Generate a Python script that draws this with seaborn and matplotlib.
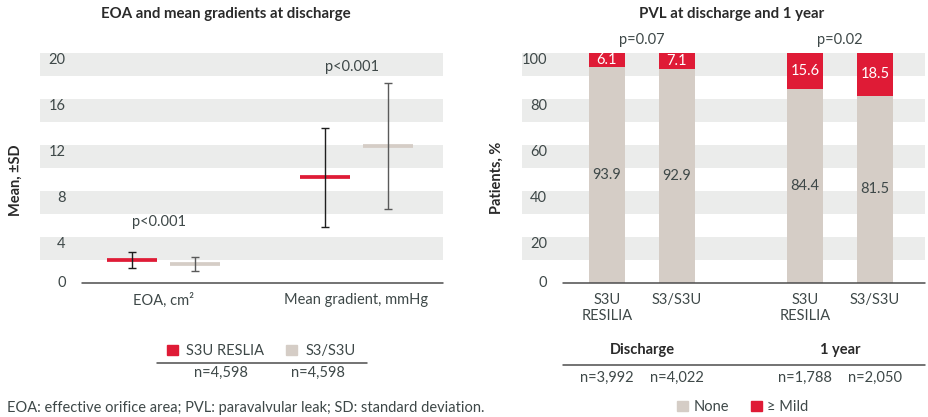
import numpy as np
import pandas as pd
import seaborn as sns
import matplotlib.pyplot as plt
import matplotlib.transforms as mtransforms
from matplotlib.patches import Patch

# left panel: EOA and mean gradient at discharge
metrics = ["EOA, cm²", "Mean gradient, mmHg"]
devices = ["S3U RESLIA", "S3/S3U"]
device_n = ["n=4,598", "n=4,598"]
eoa_mean = [2.0, 1.65]
eoa_sd = [0.67, 0.57]
grad_mean = [9.2, 11.9]
grad_sd = [4.3, 5.5]
left_pvals = ["p<0.001", "p<0.001"]
left_pval_y = [5.3, 18.8]
left_ticks = [0, 4, 8, 12, 16, 20]

# right panel: PVL at discharge and 1 year
pvl_labels = ["S3U\nRESILIA", "S3/S3U", "S3U\nRESILIA", "S3/S3U"]
timepoints = ["Discharge", "1 year"]
pvl_n = ["n=3,992", "n=4,022", "n=1,788", "n=2,050"]
none_pct = [93.9, 92.9, 84.4, 81.5]
mild_pct = [6.1, 7.1, 15.6, 18.5]
right_pvals = ["p=0.07", "p=0.02"]
right_ticks = [0, 20, 40, 60, 80, 100]

RED = "#df1b36"
BEIGE = "#d5cdc6"
BAND = "#ebeceb"
TXT = "#3e4848"
DARK = "#2a2a2a"
FS = 10.5

sns.set_style("white")
plt.rcParams["font.family"] = ["Lato", "DejaVu Sans"]

W, H = 929, 417
fig = plt.figure(figsize=(W / 100, H / 100), dpi=100)


def px_axes(x0, x1, top, bottom):
    return fig.add_axes([x0 / W, 1 - bottom / H, (x1 - x0) / W, (bottom - top) / H])


ax1 = px_axes(40, 443, 35, 283)
ax2 = px_axes(522, 925, 35, 283)


def frame(ax, ticks, top, xline, xlab):
    step = ticks[1] - ticks[0]
    for v in ticks[1:]:
        ax.axhspan(v - step / 2, v, color=BAND, lw=0, zorder=0)
    ax.set_ylim(0, top)
    ax.axhline(0, xmin=xline, color="#4d4d4d", lw=1.1, zorder=5, clip_on=False)
    for v in ticks:
        tr = ax.get_yaxis_transform()
        if v:
            tr = mtransforms.offset_copy(tr, fig=fig, y=-4.7, units="points")
        ax.text(xlab, v, str(v), transform=tr, ha="right", va="center",
                fontsize=FS, color=TXT)
    ax.set_yticks([])
    ax.set_ylabel("")
    ax.set_xlabel("")
    sns.despine(ax=ax, left=True, bottom=True)
    ax.tick_params(axis="x", length=0, pad=7, labelsize=FS, labelcolor=TXT)


# ---- left panel
left = pd.DataFrame({
    "metric": np.repeat(metrics, 2),
    "device": devices * 2,
    "mean": eoa_mean + grad_mean,
    "sd": eoa_sd + grad_sd,
})
dodge = 0.163
left["x"] = np.repeat(np.arange(len(metrics)), 2) + np.tile([-dodge, dodge], len(metrics))

sns.scatterplot(data=left, x="x", y="mean", hue="device", hue_order=devices,
                palette=[RED, BEIGE], marker="_", s=1300, linewidth=2.7,
                legend=False, ax=ax1, zorder=3)
err_cols = {devices[0]: "#1e1e1e", devices[1]: "#5a5a5a"}
for _, r in left.iterrows():
    ax1.errorbar(r["x"], r["mean"], yerr=r["sd"], fmt="none", ecolor=err_cols[r["device"]],
                 elinewidth=1, capsize=3, capthick=1, zorder=4)
for i, (p, y) in enumerate(zip(left_pvals, left_pval_y)):
    ax1.text(i - 0.025, y, p, ha="center", va="center", fontsize=FS, color=TXT)

ax1.set_xlim(-0.64, 1.448)
ax1.set_xticks(range(len(metrics)), metrics)
frame(ax1, left_ticks, 248 / 11.5, (82 - 40) / 403, 0.064)

# ---- right panel
pvl = pd.DataFrame({"label": pvl_labels, "none": none_pct, "mild": mild_pct})
pvl["total"] = pvl["none"] + pvl["mild"]
pvl["x"] = np.repeat([0, 2.83], 2) + np.tile([0, 1], 2)

sns.barplot(data=pvl, x="x", y="total", native_scale=True, color=RED, saturation=1,
            width=0.52, linewidth=0, errorbar=None, ax=ax2, zorder=2)
sns.barplot(data=pvl, x="x", y="none", native_scale=True, color=BEIGE, saturation=1,
            width=0.52, linewidth=0, errorbar=None, ax=ax2, zorder=3)
for _, r in pvl.iterrows():
    ax2.text(r["x"], r["none"] / 2, f"{r['none']:.1f}", ha="center", va="center",
             fontsize=FS, color=TXT, zorder=4)
    ax2.text(r["x"], r["none"] + r["mild"] / 2, f"{r['mild']:.1f}", ha="center",
             va="center", fontsize=FS, color="white", zorder=4)

group_x = pvl.groupby(np.repeat(timepoints, 2), sort=False)["x"].mean()
for (name, gx), p in zip(group_x.items(), right_pvals):
    ax2.text(gx, 105.7, p, ha="center", va="center", fontsize=FS, color=TXT)
    ax2.text(gx, -0.27, name, transform=ax2.get_xaxis_transform(), ha="center",
             va="center", fontsize=FS, weight="bold", color=DARK)
for x, n in zip(pvl["x"], pvl_n):
    ax2.text(x, -0.383, n, transform=ax2.get_xaxis_transform(), ha="center",
             va="center", fontsize=FS, color=TXT)
ax2.plot([(563 - 522) / 403, 1], [-0.3306, -0.3306], transform=ax2.transAxes,
         color="#4d4d4d", lw=1.1, clip_on=False)

ax2.set_xlim(-1.214, 4.543)
ax2.set_xticks(pvl["x"], pvl_labels)
frame(ax2, right_ticks, 248 / 2.3, (563 - 522) / 403, 0.062)

# ---- left legend / n row
ax1.plot([(157 - 40) / 403, (367 - 40) / 403], [-0.3226, -0.3226], transform=ax1.transAxes,
         color="#4d4d4d", lw=1.1, clip_on=False)
for xf, n in zip([(221 - 40) / 403, (318 - 40) / 403], device_n):
    ax1.text(xf, -0.363, n, transform=ax1.transAxes, ha="center", va="center",
             fontsize=FS, color=TXT)

leg_kw = dict(loc="center", ncol=2, frameon=False, handlelength=0.75, handleheight=0.75,
              fontsize=FS, labelcolor=TXT, borderpad=0, borderaxespad=0)
fig.legend(handles=[Patch(color=RED, label=devices[0]), Patch(color=BEIGE, label=devices[1])],
           bbox_to_anchor=(261 / W, 1 - 351 / H), handletextpad=0.55, columnspacing=1.55,
           **leg_kw)
fig.legend(handles=[Patch(color=BEIGE, label="None"), Patch(color=RED, label="≥ Mild")],
           bbox_to_anchor=(743 / W, 1 - 407 / H), handletextpad=0.4, columnspacing=1.45,
           **leg_kw)

# titles, axis labels, footnote
fig.text(226 / W, 1 - 14 / H, "EOA and mean gradients at discharge", ha="center",
         va="center", fontsize=10.8, weight="bold", color=DARK)
fig.text(732 / W, 1 - 14 / H, "PVL at discharge and 1 year", ha="center",
         va="center", fontsize=10.8, weight="bold", color=DARK)
fig.text(16 / W, 1 - 180 / H, "Mean, ±SD", rotation=90, ha="center", va="center",
         fontsize=FS, weight="bold", color=DARK)
fig.text(497 / W, 1 - 178 / H, "Patients, %", rotation=90, ha="center", va="center",
         fontsize=FS, weight="bold", color=DARK)
fig.text(7 / W, 2 / H,
         "EOA: effective orifice area; PVL: paravalvular leak; SD: standard deviation.",
         ha="left", va="bottom", fontsize=FS, color=TXT)

fig.savefig("out.png", dpi=100)
